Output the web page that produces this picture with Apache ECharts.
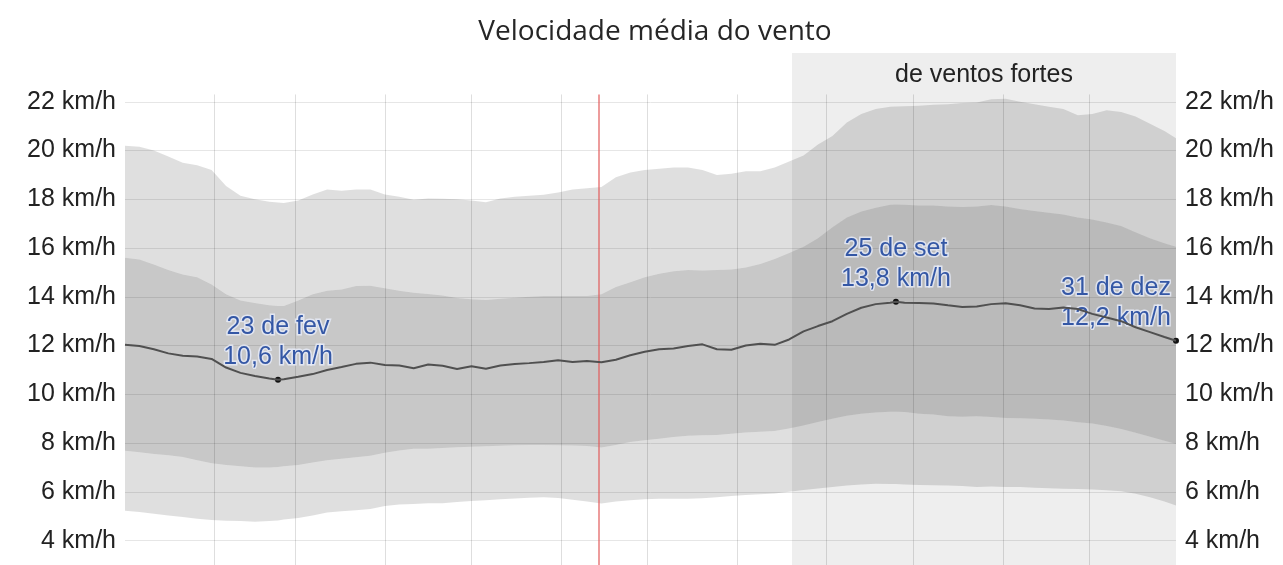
<!DOCTYPE html>
<html>
<head>
<meta charset="utf-8">
<script src="https://cdn.jsdelivr.net/npm/echarts@6/dist/echarts.min.js"></script>
<style>
html,body{margin:0;padding:0;background:#fff;}
#chart{width:1283px;height:565px;}
</style>
</head>
<body>
<div id="chart"></div>
<script>
// Day of year (0 = 1 Jan)
const days = [0,5,10,15,20,25,30,35,40,45,
  50,53,55,60,65,70,75,80,85,90,
  95,100,105,110,115,120,125,130,135,140,
  145,150,155,160,165,170,175,180,185,190,
  195,200,205,210,215,220,225,230,235,240,
  245,250,255,260,265,267,270,275,280,285,
  290,295,300,305,310,315,320,325,330,335,
  340,345,350,355,360,364];
// 90th percentile
const p90 = [20.2,20.15,20.0,19.75,19.5,19.4,19.2,18.55,18.15,18.0,
  17.9,17.87,17.85,17.95,18.2,18.4,18.35,18.4,18.4,18.2,
  18.1,17.98,18.03,18.02,18.0,17.95,17.88,18.03,18.1,18.15,
  18.19,18.28,18.4,18.45,18.5,18.9,19.1,19.2,19.25,19.3,
  19.3,19.2,19.0,19.05,19.15,19.15,19.3,19.55,19.8,20.25,
  20.6,21.15,21.5,21.7,21.8,21.81,21.82,21.84,21.88,21.9,
  21.95,21.97,22.1,22.12,22.0,21.9,21.8,21.7,21.45,21.5,
  21.65,21.58,21.4,21.1,20.8,20.5];
// 75th percentile
const p75 = [15.6,15.53,15.33,15.1,14.92,14.8,14.5,14.1,13.85,13.75,
  13.65,13.62,13.62,13.85,14.1,14.25,14.3,14.44,14.45,14.35,
  14.25,14.17,14.12,14.05,13.95,13.9,13.87,13.92,13.96,14.0,
  14.03,14.03,14.03,14.03,14.1,14.4,14.6,14.8,14.95,15.05,
  15.1,15.08,15.1,15.12,15.2,15.35,15.55,15.8,16.05,16.4,
  16.85,17.25,17.5,17.65,17.78,17.79,17.78,17.75,17.75,17.7,
  17.68,17.7,17.77,17.7,17.6,17.52,17.45,17.38,17.25,17.17,
  17.05,16.9,16.65,16.4,16.2,16.05];
// Mean wind speed
const mean = [12.03,11.98,11.85,11.68,11.58,11.55,11.45,11.1,10.88,10.75,
  10.65,10.6,10.62,10.72,10.83,11.0,11.12,11.25,11.3,11.2,
  11.18,11.07,11.22,11.17,11.04,11.15,11.05,11.18,11.24,11.28,
  11.33,11.4,11.33,11.37,11.32,11.42,11.6,11.75,11.85,11.88,
  11.98,12.05,11.85,11.83,12.0,12.07,12.03,12.25,12.58,12.8,
  13.0,13.3,13.55,13.7,13.76,13.8,13.76,13.75,13.73,13.65,
  13.58,13.6,13.7,13.74,13.65,13.52,13.5,13.56,13.5,13.3,
  13.15,13.0,12.75,12.55,12.35,12.2];
// 25th percentile
const p25 = [7.69,7.62,7.55,7.5,7.43,7.3,7.17,7.1,7.05,7.0,
  7.0,7.02,7.05,7.1,7.2,7.3,7.36,7.42,7.48,7.6,
  7.7,7.77,7.77,7.8,7.83,7.85,7.87,7.89,7.91,7.92,
  7.92,7.91,7.9,7.88,7.82,7.92,8.05,8.12,8.18,8.25,
  8.3,8.32,8.33,8.38,8.43,8.47,8.5,8.6,8.72,8.87,
  9.0,9.12,9.2,9.26,9.29,9.29,9.28,9.2,9.17,9.1,
  9.08,9.1,9.07,9.03,9.02,9.0,8.97,8.93,8.85,8.8,
  8.7,8.58,8.42,8.26,8.1,7.96];
// 10th percentile
const p10 = [5.23,5.17,5.1,5.03,4.97,4.9,4.85,4.82,4.8,4.77,
  4.8,4.83,4.87,4.93,5.03,5.15,5.2,5.25,5.3,5.42,
  5.48,5.5,5.53,5.53,5.58,5.63,5.66,5.7,5.73,5.76,
  5.78,5.75,5.68,5.6,5.52,5.6,5.66,5.7,5.72,5.72,
  5.72,5.74,5.78,5.83,5.87,5.9,5.93,6.0,6.08,6.14,
  6.2,6.26,6.3,6.33,6.32,6.32,6.3,6.28,6.27,6.26,
  6.24,6.2,6.22,6.2,6.2,6.17,6.15,6.13,6.12,6.1,
  6.07,6.03,5.92,5.78,5.6,5.44];

const monthStarts = [31,59,90,120,151,181,212,243,273,304,334];
const today = 164;
const season = [231, 364];
const seasonLabel = 'de ventos fortes';
const highlightDays = [53, 267, 364];
const highlightNames = ['23 de fev', '25 de set', '31 de dez'];
const yTicks = [4,6,8,10,12,14,16,18,20,22];
const titleText = 'Velocidade média do vento';

const yMin = 3, yMax = 24, lineTop = 22.3;

// day index -> timestamp (non-leap year, UTC)
const T0 = Date.UTC(2023, 0, 1);
const t = d => T0 + d * 86400000;

const pairs = arr => days.map((d, i) => [t(d), arr[i]]);
const diff = (a, b) => days.map((d, i) => [t(d), +(a[i] - b[i]).toFixed(3)]);

const FONT = 'Liberation Sans, Arial, sans-serif';
const labelFmt = v => (yTicks.indexOf(v) >= 0 ? v + ' km/h' : '');

const vLines = monthStarts.map(d => [{coord: [t(d), yMin]}, {coord: [t(d), lineTop]}]);

const hlPoints = highlightDays.map((d, i) => {
  const v = mean[days.indexOf(d)];
  return {
    coord: [t(d), v],
    value: v,
    label: {
      formatter: highlightNames[i] + '\n' + v.toFixed(1).replace('.', ',') + ' km/h',
      offset: i === 2 ? [-60, 0] : [0, 0]
    }
  };
});

const bandLight = 'rgba(0,0,0,0.125)';
const bandDark = 'rgba(0,0,0,0.215)';

const chart = echarts.init(document.getElementById('chart'), null, {renderer: 'canvas'});
chart.setOption({
  animation: false,
  backgroundColor: '#fff',
  title: {
    text: titleText,
    left: 650,
    textAlign: 'center',
    top: 13,
    textStyle: {fontFamily: 'Open Sans, sans-serif', fontSize: 28, fontWeight: 'normal', color: '#262626'}
  },
  grid: {left: 125, right: 107, top: 53, bottom: 0},
  xAxis: {
    type: 'time', min: t(0), max: t(364),
    axisLine: {show: false}, axisTick: {show: false}, axisLabel: {show: false}, splitLine: {show: false}
  },
  yAxis: [
    {
      type: 'value', min: yMin, max: yMax, minInterval: 2, maxInterval: 2, splitNumber: 10,
      position: 'left',
      axisLine: {show: false}, axisTick: {show: false},
      axisLabel: {formatter: labelFmt, showMinLabel: false, showMaxLabel: false, color: '#222', fontSize: 25, fontFamily: FONT, margin: 9},
      splitLine: {show: true, showMinLine: false, showMaxLine: false, lineStyle: {color: '#e6e6e6', width: 1}}
    },
    {
      type: 'value', min: yMin, max: yMax, minInterval: 2, maxInterval: 2, splitNumber: 10,
      position: 'right',
      axisLine: {show: false}, axisTick: {show: false},
      axisLabel: {formatter: labelFmt, showMinLabel: false, showMaxLabel: false, color: '#222', fontSize: 25, fontFamily: FONT, margin: 9},
      splitLine: {show: false}
    }
  ],
  series: [
    {
      name: 'p10', type: 'line', stack: 'band', data: pairs(p10),
      symbol: 'none', lineStyle: {width: 0}, silent: true,
      markArea: {
        silent: true,
        itemStyle: {color: 'rgba(0,0,0,0.065)'},
        label: {show: true, position: 'insideTop', distance: 10, color: '#222', fontSize: 25, fontFamily: FONT},
        data: [[{xAxis: t(season[0]), name: seasonLabel}, {xAxis: t(season[1])}]]
      }
    },
    {
      name: 'p10-p25', type: 'line', stack: 'band', data: diff(p25, p10),
      symbol: 'none', lineStyle: {width: 0}, areaStyle: {color: bandLight, opacity: 1}, silent: true
    },
    {
      name: 'p25-p75', type: 'line', stack: 'band', data: diff(p75, p25),
      symbol: 'none', lineStyle: {width: 0}, areaStyle: {color: bandDark, opacity: 1}, silent: true
    },
    {
      name: 'p75-p90', type: 'line', stack: 'band', data: diff(p90, p75),
      symbol: 'none', lineStyle: {width: 0}, areaStyle: {color: bandLight, opacity: 1}, silent: true
    },
    {
      name: 'grid lines', type: 'line', data: [], silent: true,
      markLine: {
        silent: true, symbol: ['none', 'none'], label: {show: false},
        lineStyle: {color: 'rgba(0,0,0,0.13)', width: 1, type: 'solid'},
        data: vLines.concat([[
          {coord: [t(today), yMin], lineStyle: {color: 'rgba(225,90,90,0.8)', width: 1.5}},
          {coord: [t(today), lineTop]}
        ]])
      }
    },
    {
      name: 'média', type: 'line', data: pairs(mean), z: 5,
      symbol: 'none', lineStyle: {color: '#505050', width: 2}, silent: true,
      markPoint: {
        silent: true, symbol: 'circle', symbolSize: 6,
        itemStyle: {color: '#111'},
        label: {
          show: true, position: 'top', distance: 5,
          color: '#3457a5', fontSize: 25, fontFamily: FONT, lineHeight: 30,
          textBorderColor: 'rgba(235,240,255,0.75)', textBorderWidth: 3
        },
        data: hlPoints
      }
    }
  ]
});
</script>
</body>
</html>
